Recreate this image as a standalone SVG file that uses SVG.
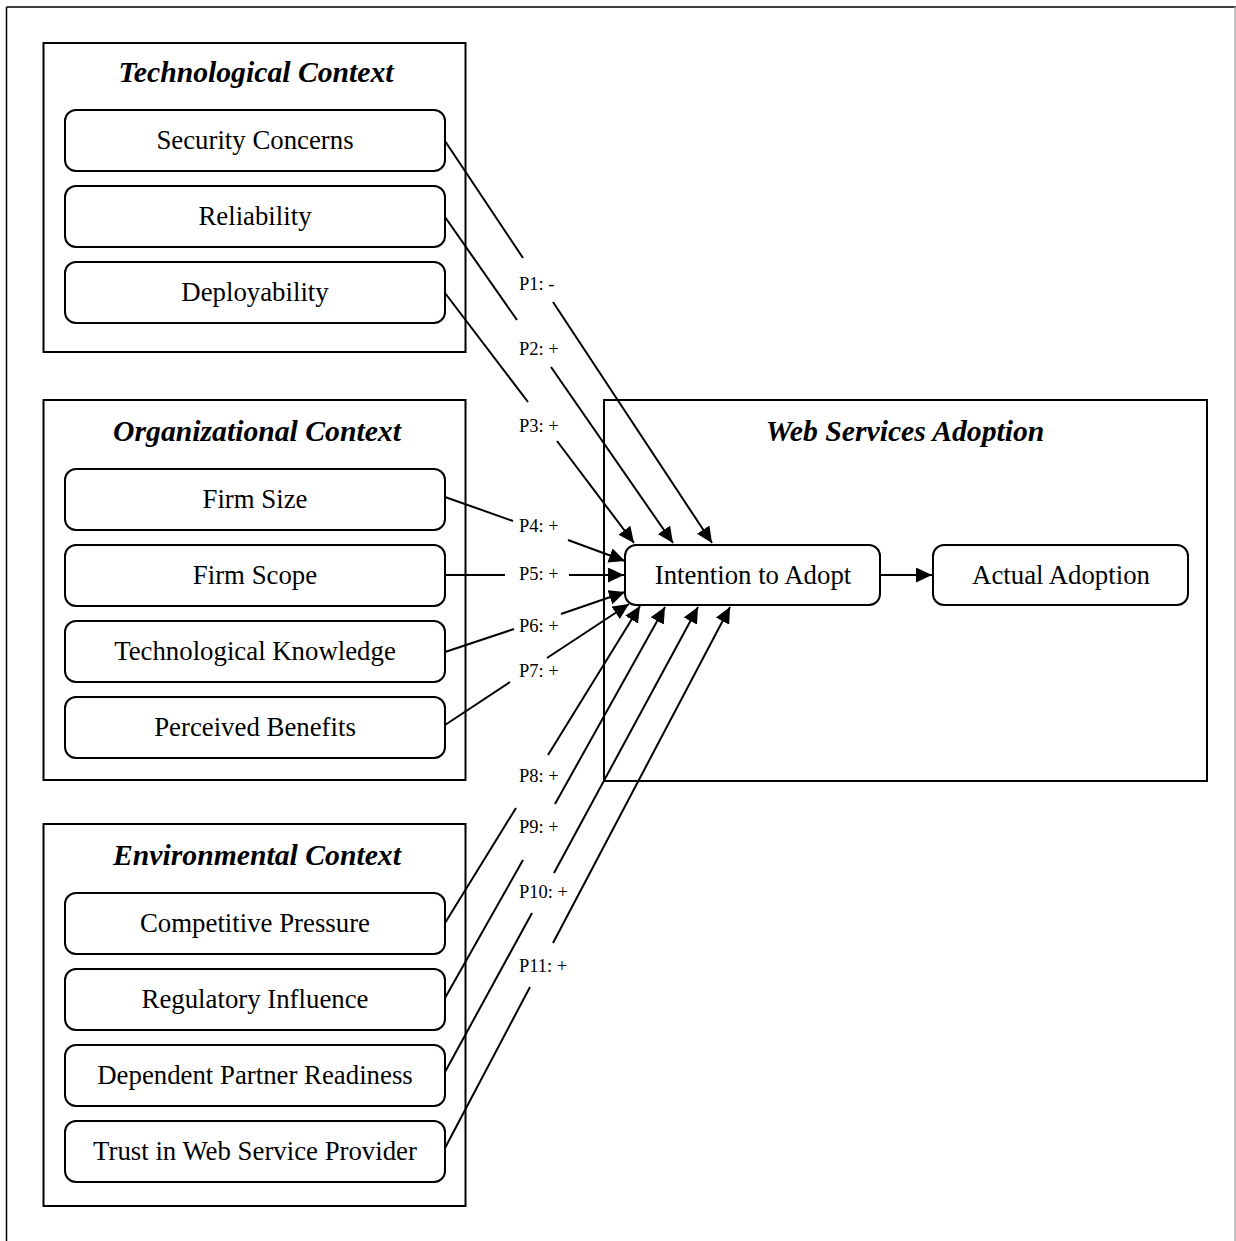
<svg xmlns="http://www.w3.org/2000/svg" width="1236" height="1241" viewBox="0 0 1236 1241">
<style>
.frame{fill:none;stroke:#000;stroke-width:1.5}
.ctx{fill:#fff;stroke:#000;stroke-width:2}
.box{fill:#fff;stroke:#000;stroke-width:2}
.title{font-family:"Liberation Serif","Times New Roman",serif;font-size:29.7px;font-weight:bold;font-style:italic;text-anchor:middle;fill:#000}
.lbl{font-family:"Liberation Serif","Times New Roman",serif;font-size:26.8px;text-anchor:middle;fill:#000}
.p{font-family:"Liberation Serif","Times New Roman",serif;font-size:18.5px;fill:#000}
.c{fill:none;stroke:#000;stroke-width:2}
</style>
<defs>
<marker id="ah" markerUnits="userSpaceOnUse" markerWidth="16" markerHeight="15" viewBox="0 0 16 15" refX="16" refY="7.5" orient="auto">
<path d="M0,0 L16,7.5 L0,15 Z" fill="#000"/>
</marker>
</defs>
<rect width="1236" height="1241" fill="#fff"/>
<g id="frame">
<line class="frame" x1="6.5" y1="7" x2="1236" y2="7"/>
<line class="frame" x1="6.5" y1="7" x2="6.5" y2="1241"/>
<line x1="1235" y1="7" x2="1235" y2="1241" stroke="#b0b0b0" stroke-width="1.5"/>
</g>

<g id="technological-context">
<rect class="ctx" x="43.5" y="43" width="422" height="309"/>
<text class="title" x="256" y="82">Technological Context</text>
</g>
<g id="security-concerns"><rect class="box" x="65" y="110" width="380" height="61" rx="11"/><text class="lbl" x="255" y="149">Security Concerns</text></g>
<g id="reliability"><rect class="box" x="65" y="186" width="380" height="61" rx="11"/><text class="lbl" x="255" y="225">Reliability</text></g>
<g id="deployability"><rect class="box" x="65" y="262" width="380" height="61" rx="11"/><text class="lbl" x="255" y="301">Deployability</text></g>

<g id="organizational-context">
<rect class="ctx" x="43.5" y="400" width="422" height="380"/>
<text class="title" x="257" y="441">Organizational Context</text>
</g>
<g id="firm-size"><rect class="box" x="65" y="469" width="380" height="61" rx="11"/><text class="lbl" x="255" y="508">Firm Size</text></g>
<g id="firm-scope"><rect class="box" x="65" y="545" width="380" height="61" rx="11"/><text class="lbl" x="255" y="584">Firm Scope</text></g>
<g id="technological-knowledge"><rect class="box" x="65" y="621" width="380" height="61" rx="11"/><text class="lbl" x="255" y="660">Technological Knowledge</text></g>
<g id="perceived-benefits"><rect class="box" x="65" y="697" width="380" height="61" rx="11"/><text class="lbl" x="255" y="736">Perceived Benefits</text></g>

<g id="environmental-context">
<rect class="ctx" x="43.5" y="824" width="422" height="382"/>
<text class="title" x="257" y="865">Environmental Context</text>
</g>
<g id="competitive-pressure"><rect class="box" x="65" y="893" width="380" height="61" rx="11"/><text class="lbl" x="255" y="932">Competitive Pressure</text></g>
<g id="regulatory-influence"><rect class="box" x="65" y="969" width="380" height="61" rx="11"/><text class="lbl" x="255" y="1008">Regulatory Influence</text></g>
<g id="dependent-partner-readiness"><rect class="box" x="65" y="1045" width="380" height="61" rx="11"/><text class="lbl" x="255" y="1084">Dependent Partner Readiness</text></g>
<g id="trust-in-web-service-provider"><rect class="box" x="65" y="1121" width="380" height="61" rx="11"/><text class="lbl" x="255" y="1160">Trust in Web Service Provider</text></g>

<g id="web-services-adoption">
<rect class="ctx" x="604" y="400" width="603" height="381"/>
<text class="title" x="905" y="441">Web Services Adoption</text>
</g>
<g id="intention-to-adopt"><rect class="box" x="625" y="545" width="255" height="60" rx="11"/><text class="lbl" x="753" y="584">Intention to Adopt</text></g>
<g id="actual-adoption"><rect class="box" x="933" y="545" width="255" height="60" rx="11"/><text class="lbl" x="1061" y="584">Actual Adoption</text></g>

<g id="connectors">
<line class="c" x1="445" y1="141" x2="523" y2="258"/>
<line class="c" x1="553" y1="302" x2="712" y2="543" marker-end="url(#ah)"/>
<text class="p" x="519" y="290">P1: -</text>

<line class="c" x1="445" y1="217" x2="517" y2="320"/>
<line class="c" x1="551" y1="367" x2="673" y2="543" marker-end="url(#ah)"/>
<text class="p" x="519" y="355">P2: +</text>

<line class="c" x1="445" y1="293" x2="528" y2="402"/>
<line class="c" x1="557" y1="441" x2="634" y2="543" marker-end="url(#ah)"/>
<text class="p" x="519" y="432">P3: +</text>

<line class="c" x1="445" y1="497" x2="513" y2="521"/>
<line class="c" x1="568" y1="540" x2="625" y2="561" marker-end="url(#ah)"/>
<text class="p" x="519" y="532">P4: +</text>

<line class="c" x1="445" y1="575" x2="505" y2="575"/>
<line class="c" x1="569" y1="575" x2="624" y2="575" marker-end="url(#ah)"/>
<text class="p" x="519" y="580">P5: +</text>

<line class="c" x1="445" y1="652" x2="514" y2="629"/>
<line class="c" x1="561" y1="614" x2="625" y2="592" marker-end="url(#ah)"/>
<text class="p" x="519" y="632">P6: +</text>

<line class="c" x1="445" y1="725" x2="510" y2="682"/>
<line class="c" x1="547" y1="658" x2="629" y2="604" marker-end="url(#ah)"/>
<text class="p" x="519" y="677">P7: +</text>

<line class="c" x1="445" y1="923" x2="516" y2="808"/>
<line class="c" x1="548" y1="755" x2="640" y2="606" marker-end="url(#ah)"/>
<text class="p" x="519" y="782">P8: +</text>

<line class="c" x1="445" y1="998" x2="523" y2="860"/>
<line class="c" x1="555" y1="804" x2="665" y2="607" marker-end="url(#ah)"/>
<text class="p" x="519" y="833">P9: +</text>

<line class="c" x1="445" y1="1072" x2="532" y2="913"/>
<line class="c" x1="554" y1="873" x2="698" y2="607" marker-end="url(#ah)"/>
<text class="p" x="519" y="898">P10: +</text>

<line class="c" x1="445" y1="1148" x2="530" y2="987"/>
<line class="c" x1="553" y1="943" x2="730" y2="607" marker-end="url(#ah)"/>
<text class="p" x="519" y="972">P11: +</text>

<line class="c" x1="880" y1="575" x2="932" y2="575" marker-end="url(#ah)"/>
</g>
</svg>
